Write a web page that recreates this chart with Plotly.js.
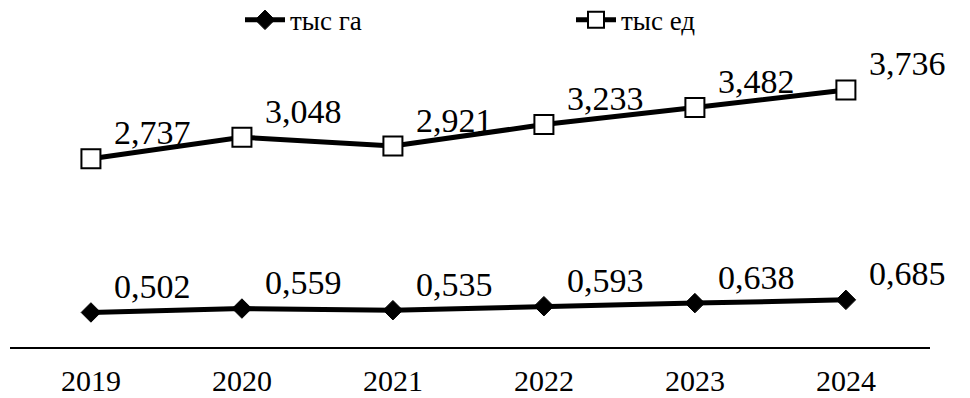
<!DOCTYPE html>
<html><head><meta charset="utf-8">
<script src="https://cdn.plot.ly/plotly-3.0.1.min.js"></script>
<style>html,body{margin:0;padding:0;background:#fff}#chart{width:970px;height:398px}</style>
</head><body><div id="chart"></div>
<script>
const years = ['2019','2020','2021','2022','2023','2024'];
const haValues = [0.502, 0.559, 0.535, 0.593, 0.638, 0.685];
const unitValues = [2.737, 3.048, 2.921, 3.233, 3.482, 3.736];
const haName = 'тыс га';
const unitName = 'тыс ед';

const fmt = v => v.toFixed(3).replace('.', ',');
const FONT = 'Liberation Serif';

const traces = [
  {x: years, y: haValues, name: haName, type: 'scatter', mode: 'lines+markers',
   line: {color: '#000', width: 5},
   marker: {symbol: 'diamond', size: 15, color: '#000', line: {color: '#000', width: 1}}},
  {x: years, y: unitValues, name: unitName, type: 'scatter', mode: 'lines+markers',
   line: {color: '#000', width: 5},
   marker: {symbol: 'square', size: 19, color: '#fff', line: {color: '#000', width: 2}}}
];

const annotations = [];
[haValues, unitValues].forEach(series => {
  series.forEach((v, i) => {
    annotations.push({xref: 'x', yref: 'y', x: i, y: v, text: fmt(v), showarrow: false,
      xanchor: 'center', yanchor: 'middle', xshift: 62, yshift: 26,
      font: {family: FONT, size: 34, color: '#000'}});
  });
});

const layout = {
  width: 970, height: 398,
  margin: {l: 10, r: 40, t: 50, b: 51, autoexpand: false},
  paper_bgcolor: '#fff', plot_bgcolor: '#fff',
  font: {family: FONT, color: '#000'},
  showlegend: true,
  legend: {orientation: 'h', x: 0.25, xanchor: 'left', y: 1.1, yanchor: 'middle',
    entrywidth: 276, entrywidthmode: 'pixels',
    font: {family: FONT, size: 27, color: '#000'}, itemwidth: 40},
  xaxis: {type: 'category', range: [-0.536, 5.557], showgrid: false, zeroline: false,
    showline: true, linecolor: '#000', linewidth: 1.5, ticks: '', automargin: false,
    ticklabelstandoff: 6, tickfont: {family: FONT, size: 30, color: '#000'}},
  yaxis: {range: [0, 4.317], visible: false, showgrid: false, zeroline: false, automargin: false},
  annotations: annotations
};

Plotly.newPlot('chart', traces, layout, {displayModeBar: false, staticPlot: true});
</script>
</body></html>
